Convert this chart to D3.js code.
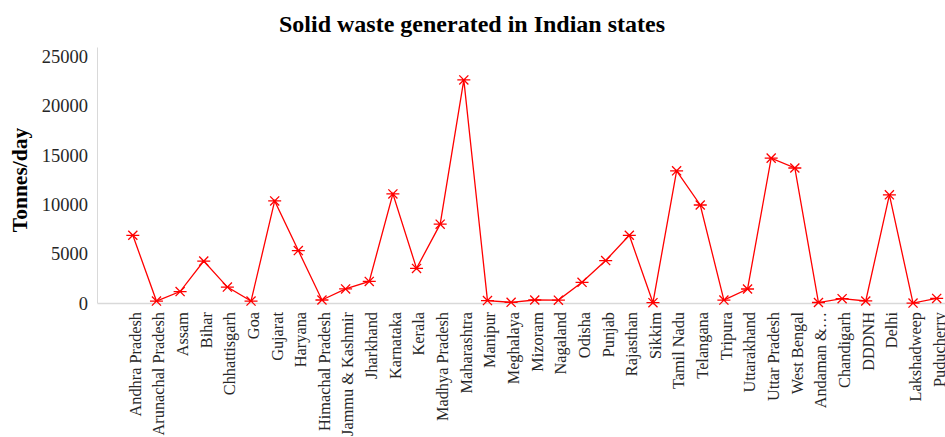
<!DOCTYPE html>
<html><head><meta charset="utf-8">
<script src="https://cdn.jsdelivr.net/npm/d3@7"></script>
<style>body{margin:0;background:#fff;} svg{display:block;}</style>
</head><body>
<svg id="c" width="945" height="437"></svg>
<script>
const states = ["Andhra Pradesh","Arunachal Pradesh","Assam","Bihar","Chhattisgarh","Goa","Gujarat","Haryana","Himachal Pradesh","Jammu & Kashmir","Jharkhand","Karnataka","Kerala","Madhya Pradesh","Maharashtra","Manipur","Meghalaya","Mizoram","Nagaland","Odisha","Punjab","Rajasthan","Sikkim","Tamil Nadu","Telangana","Tripura","Uttarakhand","Uttar Pradesh","West Bengal","Andaman &…","Chandigarh","DDDNH","Delhi","Lakshadweep","Puducherry"];
const wastePerDay = [6898,236,1199,4281,1650,234,10373,5352,346,1463,2226,11085,3543,8022,22632,282,107,345,330,2132,4338,6898,72,13422,9965,333,1458,14710,13709,89,479,246,10990,35,504];
const yTicks = [0,5000,10000,15000,20000,25000];
const title = "Solid waste generated in Indian states";
const yTitle = "Tonnes/day";

const serif = "'Liberation Serif', 'Times New Roman', serif";
const svg = d3.select("#c");
const x = d3.scaleBand().domain(states).range([121, 948.5]).padding(0);
const y = d3.scaleLinear().domain([0,25000]).range([303.4, 56.5]);
const cx = d => x(d) + x.bandwidth()/2;

// axes lines
svg.append("line").attr("x1",97.5).attr("x2",97.5).attr("y1",y(25000)-9).attr("y2",y(0))
  .attr("stroke","#d9d9d9").attr("stroke-width",1);
svg.append("line").attr("x1",97.5).attr("x2",945).attr("y1",y(0)).attr("y2",y(0))
  .attr("stroke","#d9d9d9").attr("stroke-width",1.5);

// y tick labels
svg.append("g").selectAll("text").data(yTicks).join("text")
  .attr("x",88).attr("y",d=>y(d)).attr("dy","0.35em")
  .attr("text-anchor","end").attr("font-family",serif)
  .attr("font-size",18.5).attr("fill","#262626").text(d=>d);

// x labels
svg.append("g").selectAll("text").data(states).join("text")
  .attr("transform",d=>`translate(${cx(d)+2.5},312) rotate(-90)`)
  .attr("text-anchor","end").attr("dy","0.33em")
  .attr("font-family",serif)
  .attr("font-size",16.3).attr("fill","#262626").text(d=>d);

// titles
svg.append("text").attr("x",472).attr("y",32).attr("text-anchor","middle")
  .attr("font-family",serif).attr("font-weight","bold")
  .attr("font-size",24).attr("fill","#000").text(title);
svg.append("text").attr("transform","translate(19,180) rotate(-90)").attr("text-anchor","middle")
  .attr("dy","0.35em")
  .attr("font-family",serif).attr("font-weight","bold")
  .attr("font-size",21.5).attr("fill","#000").text(yTitle);

// line
const pts = states.map((s,i)=>[cx(s), y(wastePerDay[i])]);
svg.append("path").attr("d", d3.line()(pts)).attr("fill","none")
  .attr("stroke","#ff0000").attr("stroke-width",1.3);

// star markers
const r = 6.5;
const mk = svg.append("g").attr("stroke","#ff0000").attr("stroke-width",1.3).attr("fill","none");
pts.forEach(([px,py])=>{
  const g = mk.append("g").attr("transform",`translate(${px},${py})`);
  g.append("path").attr("d",`M${-r},0H${r}M${-r*0.7},${-r*0.7}L${r*0.7},${r*0.7}M${-r*0.7},${r*0.7}L${r*0.7},${-r*0.7}`);
});
</script>
</body></html>
